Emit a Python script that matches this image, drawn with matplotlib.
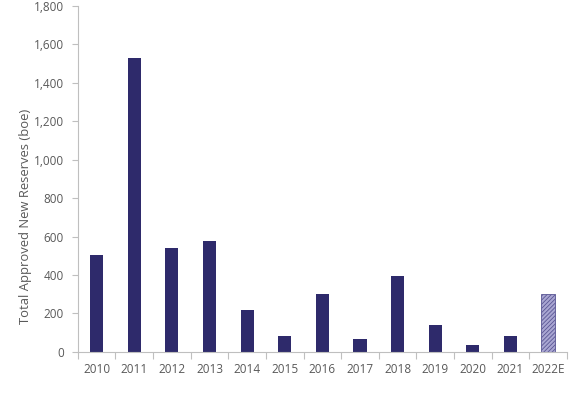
import matplotlib.pyplot as plt
from matplotlib.ticker import FuncFormatter, MultipleLocator

years = ["2010", "2011", "2012", "2013", "2014", "2015", "2016",
         "2017", "2018", "2019", "2020", "2021", "2022E"]
reserves = [505, 1530, 541, 578, 218, 83, 302, 68, 395, 140, 36, 83, 302]
estimate = [False] * 12 + [True]

BAR = "#2e2a6b"
GREY = "#595959"
AXIS = "#bfbfbf"

plt.rcParams["font.family"] = ["Open Sans", "DejaVu Sans"]
plt.rcParams["hatch.linewidth"] = 0.6

fig = plt.figure(figsize=(5.85, 3.94), dpi=100)
ax = fig.add_axes([0.133, 0.107, 0.836, 0.878])

x = range(len(years))
for i, (v, est) in enumerate(zip(reserves, estimate)):
    if est:
        # estimate bar: light fill with dense hatching
        ax.bar(i, v, width=0.35, facecolor="#a9a6d2", edgecolor="#5a5694",
               hatch="////////", linewidth=0.6)
    else:
        ax.bar(i, v, width=0.35, color=BAR)

ax.set_xlim(-0.5, len(years) - 0.5)
ax.set_ylim(0, 1800)
ax.yaxis.set_major_locator(MultipleLocator(200))
ax.yaxis.set_major_formatter(FuncFormatter(lambda v, p: f"{int(v):,}"))
ax.set_xticks(list(x))
ax.set_xticklabels(years)
ax.set_xticks([i + 0.5 for i in range(-1, len(years))], minor=True)

for s in ["top", "right"]:
    ax.spines[s].set_visible(False)
for s in ["left", "bottom"]:
    ax.spines[s].set_color(AXIS)
    ax.spines[s].set_linewidth(0.8)

ax.tick_params(axis="x", which="major", length=0, pad=8, labelsize=8.5, labelcolor=GREY)
ax.tick_params(axis="x", which="minor", length=5, color=AXIS, width=0.8)
ax.tick_params(axis="y", length=4, color=AXIS, width=0.8, labelsize=8.5, labelcolor=GREY, pad=6)

ax.set_ylabel("Total Approved New Reserves (boe)", color=GREY, fontsize=9.4)
ax.yaxis.set_label_coords(-0.094, 0.393)

fig.savefig("out.png", dpi=100)
